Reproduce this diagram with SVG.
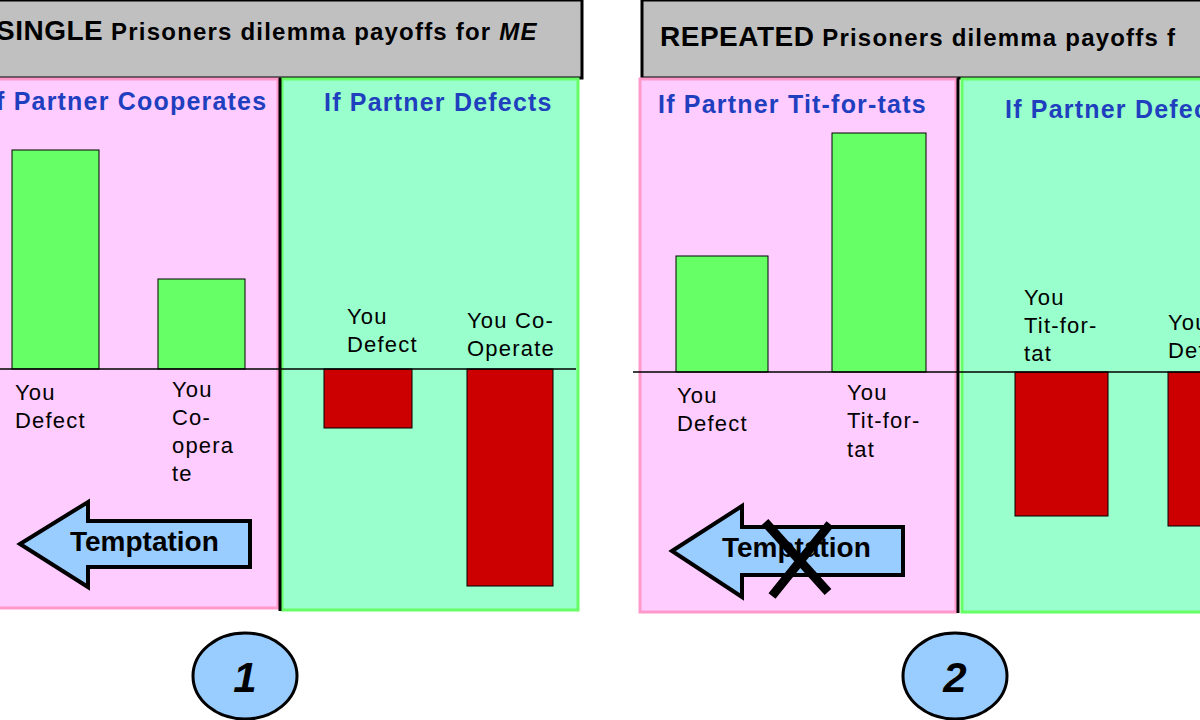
<svg xmlns="http://www.w3.org/2000/svg" width="1200" height="720" viewBox="0 0 1200 720">
<style>
text{font-family:"Liberation Sans",Arial,sans-serif;font-weight:bold}
.hd{font-size:24px;fill:#000;letter-spacing:1.2px}
.big{font-size:28px;letter-spacing:0.5px}
.pt{font-size:25px;fill:#1F3FBF;letter-spacing:1.2px}
.lb{font-size:22px;fill:#000;font-weight:normal;letter-spacing:1.2px}
.pink{fill:#FFCCFF;stroke:#FF99CC;stroke-width:3}
.grn{fill:#99FFCC;stroke:#66FF66;stroke-width:3}
.gb{fill:#66FF66;stroke:#000;stroke-width:1}
.rb{fill:#CC0000;stroke:#000;stroke-width:1}
.arr{fill:#99CCFF;stroke:#000;stroke-width:4;stroke-linejoin:miter}
.tt{font-size:28px;fill:#000}
.num{fill:#99CCFF;stroke:#000;stroke-width:3}
</style>
<rect width="1200" height="720" fill="#fff"/>
<g id="left">
<rect x="-5" y="0" width="587" height="78" fill="#C0C0C0" stroke="#000" stroke-width="3"/>
<text x="-4" y="40" class="hd"><tspan class="big">SINGLE</tspan> Prisoners dilemma payoffs for <tspan font-style="italic">ME</tspan></text>
<rect x="-5" y="79" width="283" height="529" class="pink"/>
<rect x="282" y="79" width="296" height="531" class="grn"/>
<line x1="280" y1="78" x2="280" y2="611" stroke="#000" stroke-width="3"/>
<text x="-4" y="110" class="pt">f Partner Cooperates</text>
<text x="324" y="111" class="pt">If Partner Defects</text>
<rect x="12" y="150" width="87" height="219" class="gb"/>
<rect x="158" y="279" width="87" height="90" class="gb"/>
<rect x="324" y="369" width="88" height="59" class="rb"/>
<rect x="467" y="369" width="86" height="217" class="rb"/>
<line x1="0" y1="369" x2="576" y2="369" stroke="#000" stroke-width="1.5"/>
<text class="lb"><tspan x="15" y="400">You</tspan><tspan x="15" y="428">Defect</tspan></text>
<text class="lb"><tspan x="172" y="397">You</tspan><tspan x="172" y="425">Co-</tspan><tspan x="172" y="453">opera</tspan><tspan x="172" y="481">te</tspan></text>
<text class="lb"><tspan x="347" y="324">You</tspan><tspan x="347" y="352">Defect</tspan></text>
<text class="lb"><tspan x="467" y="328">You Co-</tspan><tspan x="467" y="356">Operate</tspan></text>
<polygon class="arr" points="20,544 88,502 88,521 250,521 250,567 88,567 88,587"/>
<text x="70" y="551" class="tt">Temptation</text>
<ellipse cx="245" cy="676" rx="52" ry="43" class="num"/>
<text x="245" y="692" text-anchor="middle" font-size="42" font-style="italic">1</text>
</g>
<g id="right">
<rect x="642" y="0" width="565" height="78" fill="#C0C0C0" stroke="#000" stroke-width="3"/>
<text x="660" y="46" class="hd"><tspan class="big">REPEATED</tspan> Prisoners dilemma payoffs f</text>
<rect x="640" y="79" width="316" height="533" class="pink"/>
<rect x="962" y="79" width="245" height="533" class="grn"/>
<line x1="958" y1="78" x2="958" y2="613" stroke="#000" stroke-width="3"/>
<text x="658" y="113" class="pt">If Partner Tit-for-tats</text>
<text x="1005" y="118" class="pt">If Partner Defec</text>
<rect x="676" y="256" width="92" height="116" class="gb"/>
<rect x="832" y="133" width="94" height="239" class="gb"/>
<rect x="1015" y="372" width="93" height="144" class="rb"/>
<rect x="1168" y="372" width="40" height="154" class="rb"/>
<line x1="633" y1="372" x2="1200" y2="372" stroke="#000" stroke-width="1.5"/>
<text class="lb"><tspan x="677" y="403">You</tspan><tspan x="677" y="431">Defect</tspan></text>
<text class="lb"><tspan x="847" y="400">You</tspan><tspan x="847" y="428">Tit-for-</tspan><tspan x="847" y="457">tat</tspan></text>
<text class="lb"><tspan x="1024" y="305">You</tspan><tspan x="1024" y="333">Tit-for-</tspan><tspan x="1024" y="361">tat</tspan></text>
<text class="lb"><tspan x="1168" y="330">You</tspan><tspan x="1168" y="358">Def</tspan></text>
<polygon class="arr" points="672,551 742,506 742,527 903,527 903,575 742,575 742,597"/>
<text x="722" y="557" class="tt">Temptation</text>
<path d="M765,522 L828,592 M830,524 L772,596" stroke="#000" stroke-width="9"/>
<ellipse cx="955" cy="676" rx="52" ry="43" class="num"/>
<text x="955" y="692" text-anchor="middle" font-size="42" font-style="italic">2</text>
</g>
</svg>
